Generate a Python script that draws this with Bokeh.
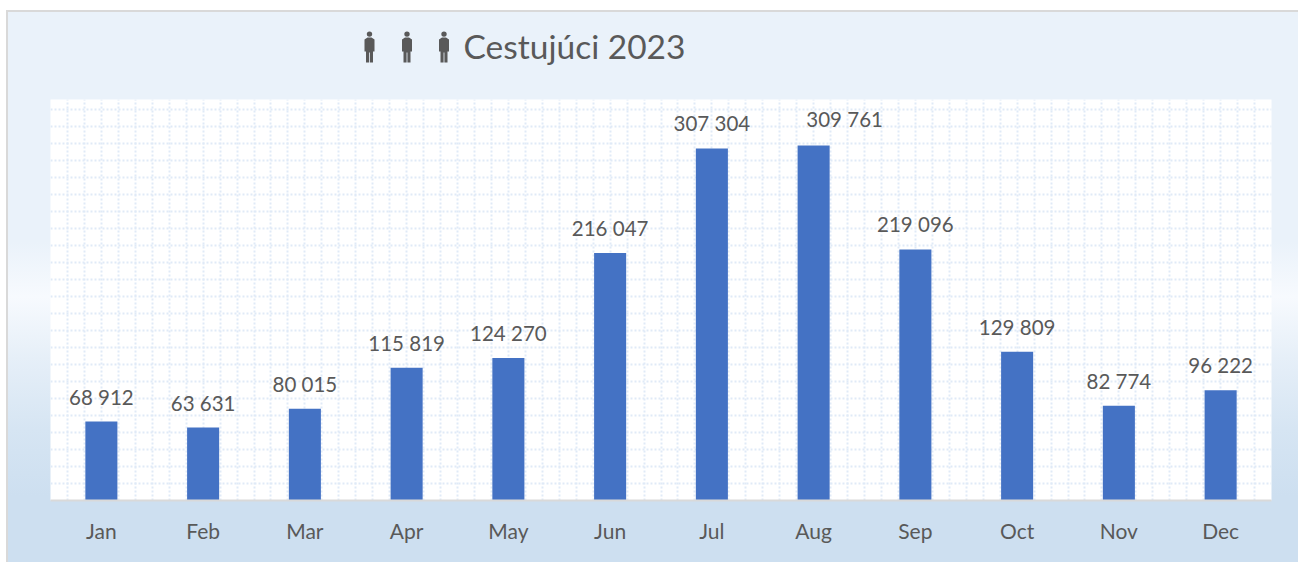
from bokeh.plotting import figure
from bokeh.embed import file_html
from bokeh.layouts import column
from bokeh.resources import INLINE
from bokeh.models import ColumnDataSource, FixedTicker, Range1d
from bokeh.core.properties import value

months = ["Jan", "Feb", "Mar", "Apr", "May", "Jun", "Jul", "Aug", "Sep", "Oct", "Nov", "Dec"]
passengers = [68912, 63631, 80015, 115819, 124270, 216047, 307304, 309761, 219096, 129809, 82774, 96222]
title_text = "Cestujúci 2023"

FONT = "Lato"
TEXT = "#595959"
GRID = "#E0EAF7"
y_max = 350000
y_step = 14835
W, TOP_H, MAIN_H = 1292, 89, 463
LEFT, RIGHT, BOTTOM = 44, 27, 62

centers = [i + 0.5 for i in range(len(months))]
labels = [f"{v:,}".replace(",", " ") for v in passengers]
# the August label sits up and to the right of its bar in the reference
label_dx = [31 if m == "Aug" else 0 for m in months]
label_dy = [-15 if m == "Aug" else -13 for m in months]
source = ColumnDataSource(dict(x=centers, top=passengers, label=labels, dx=label_dx, dy=label_dy))

# ---- title band: a figure whose scale is its own canvas pixels
head_band = figure(width=W, height=TOP_H, output_backend="svg", toolbar_location=None,
                   x_range=Range1d(LEFT, W - RIGHT), y_range=Range1d(TOP_H, 0),
                   min_border_left=LEFT, min_border_right=RIGHT, min_border_top=0, min_border_bottom=0,
                   x_axis_type=None, y_axis_type=None,
                   background_fill_alpha=0, border_fill_alpha=0, outline_line_color=None)
head_band.grid.visible = False
head_band.text(x=[457], y=[35], text=[title_text], text_font=value(FONT), text_font_size="33.5px",
               text_color=TEXT, text_baseline="middle", text_align="left")

body = [(-2, 6), (2, 6), (5, 8), (5, 20), (3.5, 20), (3.5, 31), (0.4, 31), (0.4, 21),
        (-0.4, 21), (-0.4, 31), (-3.5, 31), (-3.5, 20), (-5, 20), (-5, 8)]
person_x = [363, 400.5, 437.5]
person_top = 21
head_band.patches(xs=[[cx + dx for dx, _ in body] for cx in person_x],
                  ys=[[person_top + dy for _, dy in body] for _ in person_x],
                  fill_color=TEXT, line_color=None)
head_band.scatter(x=person_x, y=[person_top + 2.6] * 3, size=5.4, marker="circle",
                  fill_color=TEXT, line_color=None)

# ---- the chart
p = figure(width=W, height=MAIN_H, output_backend="svg", toolbar_location=None,
           x_range=Range1d(0, 12), y_range=Range1d(0, y_max),
           min_border_left=LEFT, min_border_right=RIGHT, min_border_top=0, min_border_bottom=BOTTOM,
           background_fill_color="white", border_fill_alpha=0, outline_line_color=None)

p.xgrid.ticker = FixedTicker(ticks=[k / 6 for k in range(1, 72)])
p.ygrid.ticker = FixedTicker(ticks=[k * y_step for k in range(1, 24)])
for g in (p.xgrid[0], p.ygrid[0]):
    g.grid_line_color = GRID
    g.grid_line_width = 2
    g.grid_line_dash = "2 2"

p.yaxis.visible = False
xa = p.xaxis[0]
xa.ticker = FixedTicker(ticks=centers)
xa.major_label_overrides = {c: m for c, m in zip(centers, months)}
xa.major_tick_line_color = None
xa.minor_tick_line_color = None
xa.axis_line_color = "#D9D9D9"
xa.axis_line_width = 2
xa.major_label_text_font = FONT
xa.major_label_text_font_size = "21px"
xa.major_label_text_color = TEXT
xa.major_label_standoff = 11

p.vbar(x="x", top="top", bottom=0, width=0.315, source=source, fill_color="#4472C4", line_color=None)
p.text(x="x", y="top", text="label", source=source, text_align="center", text_baseline="bottom",
       x_offset="dx", y_offset="dy", text_font=value(FONT), text_font_size="20.5px", text_color=TEXT)

page = column(head_band, p, width=W, height=TOP_H + MAIN_H, spacing=0)
page.margin = (10, 0, 0, 6)
page.styles = {
    "background": "linear-gradient(180deg, #EAF2FA 0%, #EAF2FA 42%, #F7FAFE 52%, "
                  "#E6EFF8 63%, #D6E5F3 76%, #CDDFF0 88%, #CDDFF0 100%)",
    "box-shadow": "inset 2px 2px 0 #D9D9D9",
}

open("out.html", "w").write(file_html(page, INLINE))
